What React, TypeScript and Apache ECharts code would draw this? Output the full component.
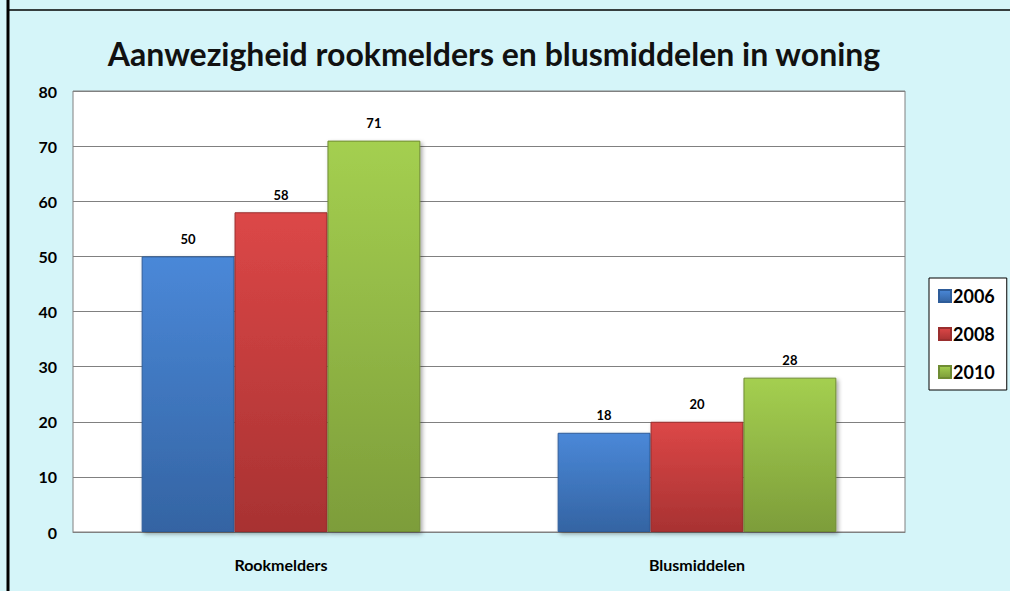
import React, { useEffect, useRef } from "react";
import * as echarts from "echarts";

const categories = ["Rookmelders", "Blusmiddelen"];
const years = ["2006", "2008", "2010"];
const values2006 = [50, 18];
const values2008 = [58, 20];
const values2010 = [71, 28];
const yTicks = { min: 0, max: 80, interval: 10 };

const grad = (top: string, bottom: string) =>
  new echarts.graphic.LinearGradient(0, 0, 0, 1, [
    { offset: 0, color: top },
    { offset: 1, color: bottom },
  ]);

export default function App() {
  const ref = useRef<HTMLDivElement>(null);
  useEffect(() => {
    if (!ref.current) return;
    const chart = echarts.init(ref.current, undefined, { renderer: "svg" });
    const colors = [
      ["#4A88D8", "#3464A3", "#2E5C99"],
      ["#DC4747", "#A83232", "#9A2E2E"],
      ["#A4CF50", "#7D9D3A", "#6F8C33"],
    ];
    const data = [values2006, values2008, values2010];
    const font = "Lato, 'Open Sans', sans-serif";
    chart.setOption({
      animation: false,
      backgroundColor: "#D5F5F9",
      textStyle: { fontFamily: font },
      title: {
        text: "Aanwezigheid rookmelders en blusmiddelen in woning",
        left: 489,
        textAlign: "center",
        top: 32,
        textStyle: { fontSize: 32, fontWeight: "bold", color: "#111", fontFamily: font },
      },
      legend: {
        orient: "vertical",
        left: 929,
        top: 278,
        icon: "rect",
        itemWidth: 12,
        itemHeight: 12,
        itemGap: 20,
        padding: [9, 12, 9, 9],
        borderColor: "#000",
        borderWidth: 1,
        backgroundColor: "#fff",
        textStyle: { fontSize: 18, fontWeight: "bold", color: "#000", padding: [0, 0, 0, -3] },
        data: years,
      },
      grid: {
        left: 73,
        top: 91,
        width: 832,
        height: 441,
        show: true,
        backgroundColor: "#fff",
        borderColor: "#808080",
        borderWidth: 1,
      },
      xAxis: {
        type: "category",
        data: categories,
        axisLine: { lineStyle: { color: "#808080" } },
        axisTick: { show: false },
        axisLabel: { fontSize: 16, fontWeight: "bold", color: "#000", margin: 24 },
      },
      yAxis: {
        type: "value",
        min: yTicks.min,
        max: yTicks.max,
        interval: yTicks.interval,
        axisLine: { show: false },
        axisTick: { show: false },
        splitLine: { lineStyle: { color: "#808080", width: 1 } },
        axisLabel: { fontSize: 16, fontWeight: "bold", color: "#000", margin: 16 },
      },
      series: years.map((y, i) => ({
        name: y,
        type: "bar",
        data: data[i],
        barGap: "0%",
        barCategoryGap: "33%",
        itemStyle: {
          color: grad(colors[i][0], colors[i][1]),
          borderColor: colors[i][2],
          borderWidth: 1,
          shadowColor: "rgba(0,0,0,0.35)",
          shadowBlur: 4,
          shadowOffsetX: 2,
          shadowOffsetY: 2,
        },
        label: {
          show: true,
          position: "top",
          distance: 11,
          fontSize: 13,
          fontWeight: "bold",
          color: "#000",
        },
      })),
      graphic: [
        { type: "line", shape: { x1: 8, y1: 0, x2: 8, y2: 591 }, style: { stroke: "#000", lineWidth: 3 } },
        { type: "line", shape: { x1: 7, y1: 10, x2: 1010, y2: 10 }, style: { stroke: "#000", lineWidth: 1.5 } },
      ],
    });
    return () => chart.dispose();
  }, []);
  return <div ref={ref} style={{ width: 1010, height: 591, position: "absolute", left: 0, top: 0 }} />;
}
